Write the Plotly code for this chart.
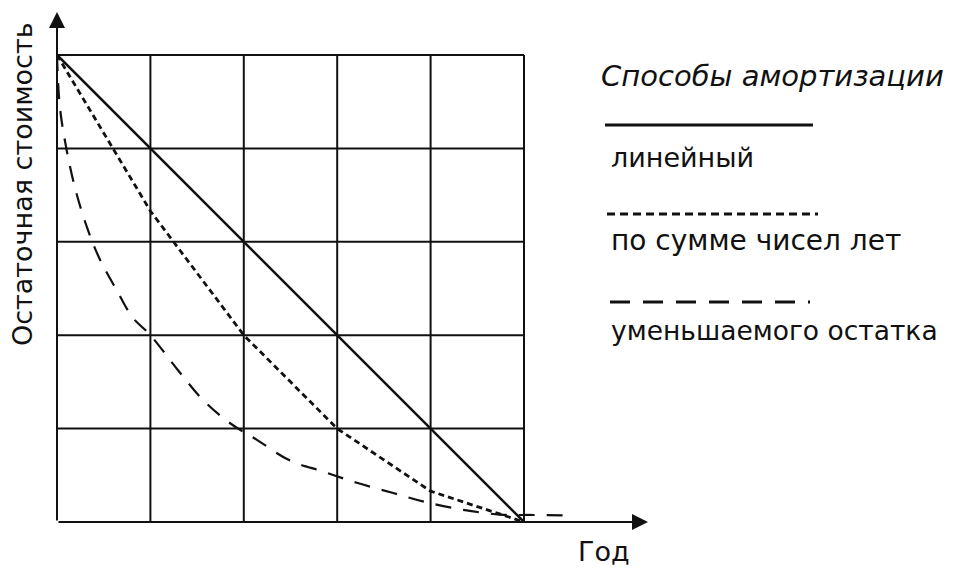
import plotly.graph_objects as go

# ---- data ----
years = [0, 1, 2, 3, 4, 5]
linear = [5, 4, 3, 2, 1, 0]
sum_years = [5, 3.33, 2, 1, 0.33, 0]
decl_x = [0, 0.03, 0.1, 0.2, 0.33, 0.46, 0.64, 0.81, 1.0, 1.3, 1.56, 1.85, 2.14,
          2.49, 2.85, 3.21, 3.6, 3.96, 4.35, 4.74, 5.1, 5.45]
decl_y = [5, 4.45, 4.0, 3.55, 3.13, 2.81, 2.48, 2.19, 2.0, 1.62, 1.31, 1.06, 0.88,
          0.66, 0.54, 0.42, 0.31, 0.21, 0.13, 0.08, 0.075, 0.07]

legend_title = "Способы амортизации"
legend_names = ["линейный", "по сумме чисел лет", "уменьшаемого остатка"]
x_title = "Год"
y_title = "Остаточная стоимость"

# ---- layout geometry (pixels) ----
OFF = 8                      # browser default body margin
FW, FH = 958 - OFF, 572 - OFF
L, R, T, B = 57 - OFF, 308, 2, 50
PW, PH = FW - L - R, FH - T - B
UNIT = 93.4
XMAX, YMAX = PW / UNIT, PH / UNIT


def px(x):
    # x given in window pixels
    return (x - OFF - L) / PW


def py(y):
    return (FH - B - (y - OFF)) / PH


INK = "#111111"
FONT = "DejaVu Sans"

fig = go.Figure()

fig.add_trace(go.Scatter(x=years, y=linear, mode="lines",
                         line=dict(color=INK, width=2.5), name=legend_names[0]))
fig.add_trace(go.Scatter(x=years, y=sum_years, mode="lines",
                         line=dict(color=INK, width=2.8, dash="6px,4px"),
                         name=legend_names[1]))
fig.add_trace(go.Scatter(x=decl_x, y=decl_y, mode="lines", line_shape="spline",
                         line=dict(color=INK, width=2.2, dash="16px,12px"),
                         name=legend_names[2]))

shapes = []
# grid
for i in range(1, 6):
    shapes.append(dict(type="line", xref="x", yref="y", x0=i, x1=i, y0=0, y1=5,
                       line=dict(color=INK, width=2), layer="below"))
for j in range(1, 6):
    shapes.append(dict(type="line", xref="x", yref="y", x0=-0.05 if j == 5 else 0,
                       x1=5, y0=j, y1=j, line=dict(color=INK, width=2), layer="below"))

# legend samples
shapes.append(dict(type="line", xref="paper", yref="paper", x0=px(605), x1=px(813),
                   y0=py(125), y1=py(125), line=dict(color=INK, width=3)))
shapes.append(dict(type="line", xref="paper", yref="paper", x0=px(607), x1=px(818),
                   y0=py(214), y1=py(214), line=dict(color=INK, width=3, dash="8px,5px")))
shapes.append(dict(type="line", xref="paper", yref="paper", x0=px(610), x1=px(810),
                   y0=py(302), y1=py(302), line=dict(color=INK, width=3, dash="20px,13px")))

annotations = [
    # axes with arrows
    dict(x=0, y=(522 - 12) / UNIT, ax=0, ay=0, xref="x", yref="y", axref="x", ayref="y",
         showarrow=True, arrowhead=2, arrowsize=1.6, arrowwidth=2, arrowcolor=INK, text=""),
    dict(x=(648 - 57) / UNIT, y=0, ax=0, ay=0, xref="x", yref="y", axref="x", ayref="y",
         showarrow=True, arrowhead=2, arrowsize=1.6, arrowwidth=2, arrowcolor=INK, text=""),
    # axis titles
    dict(x=px(22), y=py(184), xref="paper", yref="paper", text=y_title, textangle=-90,
         showarrow=False, xanchor="center", yanchor="middle",
         font=dict(family=FONT, size=27, color=INK)),
    dict(x=px(604), y=py(551), xref="paper", yref="paper", text=x_title,
         showarrow=False, xanchor="center", yanchor="middle",
         font=dict(family=FONT, size=27, color=INK)),
    # legend texts
    dict(x=px(599), y=py(76), xref="paper", yref="paper", text=legend_title,
         showarrow=False, xanchor="left", yanchor="middle",
         font=dict(family=FONT, size=29, color=INK, style="italic")),
]
for name, yy, fs in zip(legend_names, [157, 240, 330], [27, 28, 26.5]):
    annotations.append(dict(x=px(609), y=py(yy), xref="paper", yref="paper", text=name,
                            showarrow=False, xanchor="left", yanchor="middle",
                            font=dict(family=FONT, size=fs, color=INK)))

fig.update_layout(
    width=FW, height=FH,
    margin=dict(l=L, r=R, t=T, b=B, pad=0),
    plot_bgcolor="white", paper_bgcolor="white",
    showlegend=False,
    xaxis=dict(range=[0, XMAX], visible=False, fixedrange=True),
    yaxis=dict(range=[0, YMAX], visible=False, fixedrange=True),
    shapes=shapes, annotations=annotations,
)

fig.write_html("out.html")
